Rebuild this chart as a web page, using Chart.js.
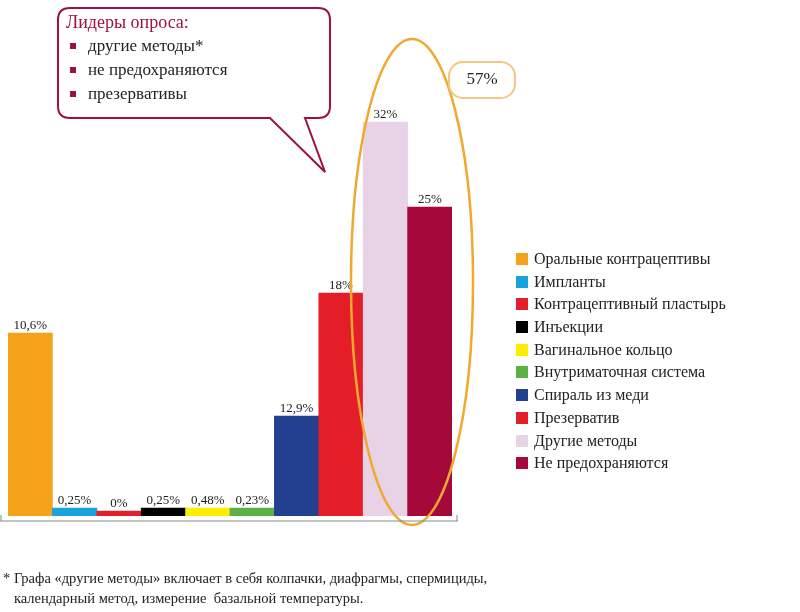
<!DOCTYPE html>
<html><head><meta charset="utf-8">
<script src="https://cdn.jsdelivr.net/npm/chart.js@4"></script>
<style>
body{margin:0;width:800px;height:612px;position:relative;background:#fff;font-family:"Liberation Serif","DejaVu Serif",serif;overflow:hidden}
#c{position:absolute;left:0;top:0}
.t{position:absolute;white-space:nowrap}
#legend{position:absolute;left:516px;top:250px}
.li{height:22.7px;font-size:16px;line-height:18px;color:#222;position:relative;padding-left:18px}
.sw{position:absolute;left:0;top:3px;width:12px;height:12px}
</style></head><body>
<canvas id="c" width="800" height="612"></canvas>
<svg width="800" height="612" style="position:absolute;left:0;top:0">
<path d="M72,8 H318 Q330,8 330,20 V106 Q330,118 318,118 H305 L325,172 L270,118 H70 Q58,118 58,106 V20 Q58,8 70,8 Z" fill="#fff" stroke="#a0103c" stroke-width="2"/>
<rect x="70" y="43" width="6" height="6" fill="#a0103c"/>
<rect x="70" y="67" width="6" height="6" fill="#a0103c"/>
<rect x="70" y="91" width="6" height="6" fill="#a0103c"/>
<ellipse cx="412" cy="282" rx="61" ry="243" fill="none" stroke="#f0a830" stroke-width="2.5"/>
<rect x="449" y="62" width="66" height="36" rx="14" fill="#fff" stroke="#f5c77e" stroke-width="2"/>
<line x1="0" y1="521" x2="458" y2="521" stroke="#888" stroke-width="1"/>
<line x1="1" y1="515" x2="1" y2="521" stroke="#888"/><line x1="457" y1="515" x2="457" y2="521" stroke="#888"/>
</svg>
<div class="t" style="left:66px;top:12px;font-size:18px;color:#a0103c">Лидеры опроса:</div>
<div class="t" style="left:88px;top:36px;font-size:17px;color:#222">другие методы*</div>
<div class="t" style="left:88px;top:60px;font-size:17px;color:#222">не предохраняются</div>
<div class="t" style="left:88px;top:84px;font-size:17px;color:#222">презервативы</div>
<div class="t" style="left:449px;top:69px;width:66px;text-align:center;font-size:17px;color:#222">57%</div>
<div id="legend"></div>
<div class="t" style="left:3px;top:568px;font-size:14.5px;color:#222;line-height:20px">* Графа «другие методы» включает в себя колпачки, диафрагмы, спермициды,<br>&nbsp;&nbsp;&nbsp;календарный метод, измерение&nbsp; базальной температуры.</div>
<script>
const categories=["Оральные контрацептивы","Импланты","Контрацептивный пластырь","Инъекции","Вагинальное кольцо","Внутриматочная система","Спираль из меди","Презерватив","Другие методы","Не предохраняются"];
const valueLabels=["10,6%","0,25%","0%","0,25%","0,48%","0,23%","12,9%","18%","32%","25%"];
// bar heights as drawn in the picture (not to scale with labels)
const barHeights=[183,8,5,8,8,8,100,223,394,309];
const colors=["#f5a21b","#19a3dc","#e3202a","#000000","#ffed00","#5bb046","#233f8f","#e41e26","#e8d3e6","#a4093a"];
document.getElementById('legend').innerHTML=categories.map((c,i)=>`<div class="li"><span class="sw" style="background:${colors[i]}"></span>${c}</div>`).join('');
const labelPlugin={id:'lbl',afterDatasetsDraw(ch){const ctx=ch.ctx;const m=ch.getDatasetMeta(0);ctx.save();ctx.font='13px "Liberation Serif",serif';ctx.fillStyle='#222';ctx.textAlign='center';ctx.textBaseline='bottom';m.data.forEach((b,i)=>ctx.fillText(valueLabels[i],b.x,b.y-1));ctx.restore();}};
new Chart(document.getElementById('c'),{type:'bar',data:{labels:categories,datasets:[{data:barHeights,backgroundColor:colors,barPercentage:1,categoryPercentage:1}]},
options:{responsive:false,animation:false,layout:{padding:{left:8,right:348,top:116,bottom:96}},plugins:{legend:{display:false},tooltip:{enabled:false}},
scales:{x:{display:false},y:{display:false,min:0,max:400}}},plugins:[labelPlugin]});
</script></body></html>
